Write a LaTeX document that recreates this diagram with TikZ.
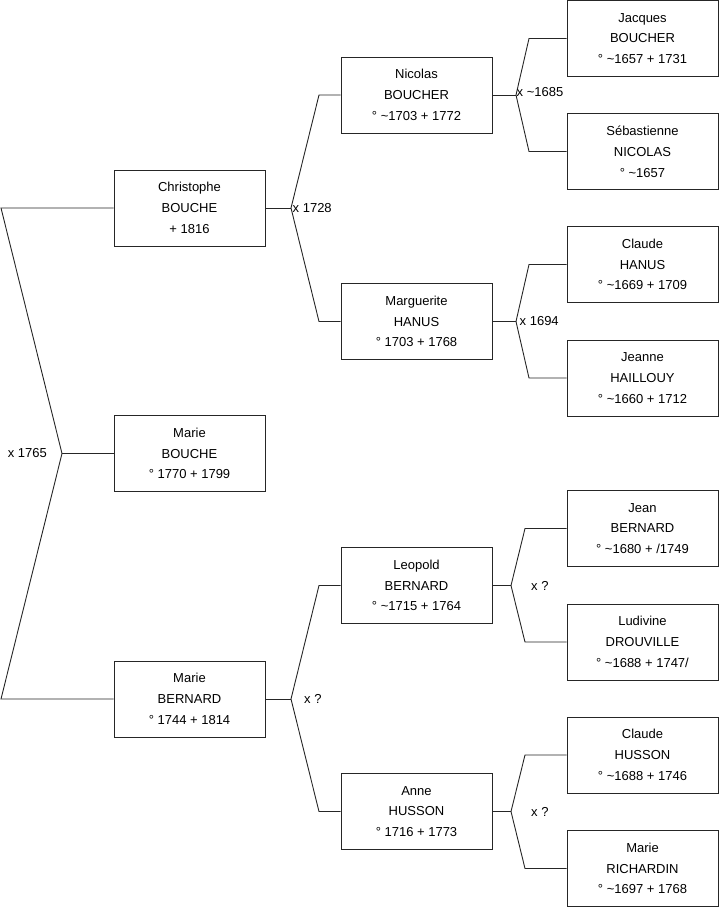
\documentclass[tikz,border=0pt]{standalone}
\usepackage{fontspec}
\setmainfont{Liberation Sans}
\begin{document}
\begin{tikzpicture}[x=1pt,y=-1pt,
  person/.style={draw=black!85,line width=0.9pt,rectangle,minimum width=151pt,minimum height=76pt,
    align=center,inner sep=0pt,font=\fontsize{13}{20.8}\selectfont},
  link/.style={draw=black!85,line width=0.9pt},
  lbl/.style={inner sep=0pt,font=\fontsize{13}{15}\selectfont}]
\useasboundingbox (0,0) rectangle (719,908);
% column 1
\node[person] (chris) at (189.5,208) {Christophe\\BOUCHE\\+ 1816};
\node[person] (marie) at (189.5,453.5) {Marie\\BOUCHE\\° 1770 + 1799};
\node[person] (marieb) at (189.5,699) {Marie\\BERNARD\\° 1744 + 1814};
% column 2
\node[person] (nic) at (416.5,95) {Nicolas\\BOUCHER\\° \textasciitilde1703 + 1772};
\node[person] (marg) at (416.5,321.5) {Marguerite\\HANUS\\° 1703 + 1768};
\node[person] (leo) at (416.5,585.5) {Leopold\\BERNARD\\° \textasciitilde1715 + 1764};
\node[person] (anne) at (416.5,811.5) {Anne\\HUSSON\\° 1716 + 1773};
% column 3
\node[person] (jac) at (642.5,38.5) {Jacques\\BOUCHER\\° \textasciitilde1657 + 1731};
\node[person] (seb) at (642.5,151.5) {Sébastienne\\NICOLAS\\° \textasciitilde1657};
\node[person] (claudeh) at (642.5,264.5) {Claude\\HANUS\\° \textasciitilde1669 + 1709};
\node[person] (jeanne) at (642.5,378) {Jeanne\\HAILLOUY\\° \textasciitilde1660 + 1712};
\node[person] (jean) at (642.5,528.5) {Jean\\BERNARD\\° \textasciitilde1680 + /1749};
\node[person] (lud) at (642.5,642) {Ludivine\\DROUVILLE\\° \textasciitilde1688 + 1747/};
\node[person] (claudehu) at (642.5,755) {Claude\\HUSSON\\° \textasciitilde1688 + 1746};
\node[person] (mrich) at (642.5,868.5) {Marie\\RICHARDIN\\° \textasciitilde1697 + 1768};
% fork points
\coordinate (r0a) at (1,208);
\coordinate (r0b) at (1,699);
\coordinate (f0) at (62,453.5);
\coordinate (f1) at (291,208);
\coordinate (f1a) at (319,95);
\coordinate (f1b) at (319,321.5);
\coordinate (f2) at (291,699);
\coordinate (f2a) at (319,585.5);
\coordinate (f2b) at (319,811.5);
\coordinate (f3) at (516,95);
\coordinate (f3a) at (529,38.5);
\coordinate (f3b) at (529,151.5);
\coordinate (f4) at (516,321.5);
\coordinate (f4a) at (529,264.5);
\coordinate (f4b) at (529,378);
\coordinate (f5) at (511,585.5);
\coordinate (f5a) at (525,528.5);
\coordinate (f5b) at (525,642);
\coordinate (f6) at (511,811.5);
\coordinate (f6a) at (525,755);
\coordinate (f6b) at (525,868.5);
% connectors
\draw[link] (chris.west) -- (r0a) -- (f0) -- (r0b) -- (marieb.west);
\draw[link] (f0) -- (marie.west);
\draw[link] (chris.east) -- (f1);
\draw[link] (nic.west) -- (f1a) -- (f1) -- (f1b) -- (marg.west);
\draw[link] (marieb.east) -- (f2);
\draw[link] (leo.west) -- (f2a) -- (f2) -- (f2b) -- (anne.west);
\draw[link] (nic.east) -- (f3);
\draw[link] (jac.west) -- (f3a) -- (f3) -- (f3b) -- (seb.west);
\draw[link] (marg.east) -- (f4);
\draw[link] (claudeh.west) -- (f4a) -- (f4) -- (f4b) -- (jeanne.west);
\draw[link] (leo.east) -- (f5);
\draw[link] (jean.west) -- (f5a) -- (f5) -- (f5b) -- (lud.west);
\draw[link] (anne.east) -- (f6);
\draw[link] (claudehu.west) -- (f6a) -- (f6) -- (f6b) -- (mrich.west);
% labels
\node[lbl,anchor=east] (l0) at (47,453.5) {x 1765};
\node[lbl,anchor=west] (l1) at (292.5,208) {x 1728};
\node[lbl,anchor=west] (l2) at (304,699) {x ?};
\node[lbl,anchor=west] (l3) at (516.5,92) {x \textasciitilde1685};
\node[lbl,anchor=west] (l4) at (519.5,321.5) {x 1694};
\node[lbl,anchor=west] (l5) at (531,585.5) {x ?};
\node[lbl,anchor=west] (l6) at (531,811.5) {x ?};
\end{tikzpicture}
\end{document}
